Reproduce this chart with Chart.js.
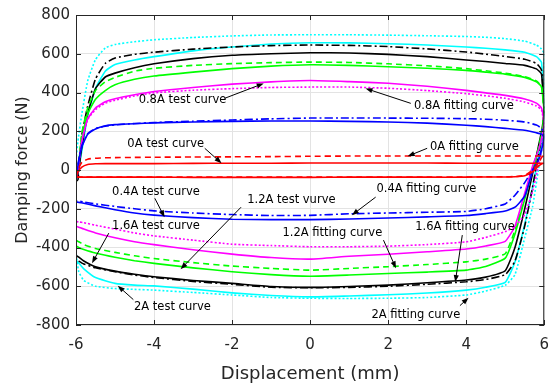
<!DOCTYPE html>
<html>
<head>
<meta charset="utf-8">
<script src="https://cdn.jsdelivr.net/npm/chart.js@4.4.1/dist/chart.umd.min.js"></script>
<style>
  html, body { margin: 0; padding: 0; background: #fff; }
  #wrap { width: 560px; height: 383px; }
</style>
</head>
<body>
<div id="wrap"><canvas id="loops"></canvas></div>
<script>
// displacement path shared by every loop (mm): upper branch left->right, lower branch right->left
const upperDisp = [-6, -5.95, -5.85, -5.7, -5.5, -5.25, -5, -4.5, -4, -3, -2, -1, 0, 1, 2, 3, 4, 4.5, 5, 5.5, 5.8, 5.93, 6];
const lowerDisp = [6, 5.95, 5.85, 5.7, 5.5, 5.25, 5, 4.5, 4, 3, 2, 1, 0, -1, -2, -3, -4, -4.5, -5, -5.5, -5.8, -5.93, -6];

// damping force (N)
const fit0A_up   = [-37, -10, 15, 28, 32, 33, 33, 33, 33, 34, 35, 35, 36, 36, 36, 36, 35, 35, 35, 35, 35, 35, 35];
const fit0A_low  = [35, 33, 20, -10, -30, -35, -36, -36, -37, -37, -37, -37, -38, -38, -38, -38, -37, -37, -37, -37, -37, -37, -37];
const test0A_up  = [-37, 0, 40, 56, 61, 63, 64, 65, 66, 67, 68, 69, 71, 72, 72, 72, 72, 72, 72, 72, 72, 72, 72];
const test0A_low = [72, 70, 35, 0, -28, -34, -35, -35, -36, -36, -36, -36, -36, -36, -36, -36, -36, -36, -36, -36, -36, -36, -36];

const fit04_up   = [-60, 20, 120, 185, 212, 228, 234, 239, 243, 248, 251, 253, 253, 251, 248, 242, 231, 224, 215, 205, 192, 185, 170];
const fit04_low  = [170, 120, 50, -10, -135, -192, -212, -225, -235, -242, -248, -253, -256, -256, -254, -246, -233, -222, -205, -185, -172, -167, -165];
const test04_up  = [-55, 30, 125, 188, 214, 226, 233, 240, 245, 252, 258, 264, 268, 268, 268, 267, 265, 262, 257, 248, 232, 215, 180];
const test04_low = [180, 120, 50, 0, -65, -130, -175, -200, -214, -218, -222, -226, -234, -235, -230, -222, -211, -200, -188, -175, -165, -161, -160];

const fit08_up   = [-60, 0, 150, 265, 320, 352, 368, 388, 405, 426, 443, 455, 462, 456, 448, 432, 411, 398, 385, 366, 345, 320, 250];
const fit08_low  = [250, 180, 100, 20, -120, -290, -368, -392, -408, -422, -435, -445, -460, -452, -434, -412, -385, -370, -350, -325, -305, -295, -290];
const test08_up  = [-60, 0, 150, 260, 312, 345, 360, 382, 398, 412, 420, 426, 428, 428, 422, 410, 394, 383, 370, 351, 330, 310, 230];
const test08_low = [230, 120, 20, -110, -230, -290, -318, -348, -371, -385, -393, -396, -396, -390, -383, -362, -340, -325, -305, -285, -272, -268, -265];

const fit12_up   = [-60, 10, 160, 290, 365, 410, 440, 468, 485, 505, 523, 536, 543, 540, 533, 525, 514, 505, 495, 478, 455, 430, 300];
const fit12_low  = [300, 200, 100, 0, -150, -330, -455, -498, -517, -527, -534, -542, -548, -540, -525, -505, -482, -468, -450, -428, -410, -400, -390];
const test12_up  = [-60, 0, 190, 320, 410, 455, 478, 510, 525, 540, 549, 554, 557, 555, 548, 538, 523, 512, 500, 482, 460, 430, 300];
const test12_low = [300, 210, 110, 10, -140, -310, -432, -460, -474, -488, -499, -508, -517, -508, -496, -478, -457, -443, -425, -405, -385, -370, -362];

const fit16_up   = [-60, -20, 120, 290, 420, 480, 500, 528, 548, 575, 592, 600, 605, 604, 597, 585, 568, 560, 550, 540, 522, 495, 300];
const fit16_low  = [300, 220, 120, -20, -200, -400, -520, -553, -568, -582, -594, -601, -606, -601, -585, -570, -551, -538, -522, -500, -470, -450, -440];
const test16_up  = [-60, -50, 180, 330, 470, 550, 578, 597, 608, 624, 635, 642, 645, 643, 637, 625, 609, 598, 586, 572, 550, 515, 300];
const test16_low = [300, 180, 80, -90, -290, -470, -540, -565, -577, -590, -600, -606, -608, -605, -590, -575, -555, -542, -525, -505, -485, -470, -460];

const fit2_up    = [-60, -20, 100, 280, 420, 510, 545, 568, 585, 615, 635, 650, 657, 656, 652, 645, 635, 628, 620, 608, 585, 555, 300];
const fit2_low   = [300, 170, 67, -90, -280, -475, -580, -605, -620, -635, -644, -650, -655, -648, -634, -615, -598, -594, -585, -555, -510, -480, -465];
const test2_up   = [50, 150, 290, 460, 570, 630, 648, 662, 672, 684, 692, 697, 698, 698, 696, 693, 689, 685, 678, 665, 645, 625, 600];
const test2_low  = [200, 120, 0, -190, -350, -540, -595, -625, -645, -658, -662, -663, -662, -658, -645, -632, -620, -616, -612, -600, -570, -525, -420];

const xTicks = [-6, -4, -2, 0, 2, 4, 6];
const yTicks = [-800, -600, -400, -200, 0, 200, 400, 600, 800];

// text labels with arrows, in data units: [text, textX, textY, tailX, tailY, headX, headY]
const notes = [
  ['0.8A test curve',    -3.27,  360, -2.19,  370, -1.19,  447],
  ['0.8A fitting curve',  3.94,  329,  2.58,  344,  1.42,  421],
  ['0A test curve',      -3.70,  133, -2.70,  112, -2.27,   35],
  ['0A fitting curve',    4.21,  117,  3.00,  112,  2.50,   71],
  ['0.4A test curve',    -3.95, -115, -3.98, -146, -3.73, -244],
  ['0.4A fitting curve',  2.98,  -99,  1.68, -140,  1.07, -233],
  ['1.2A test vurve',    -0.48, -156, -1.77, -192, -3.32, -512],
  ['1.6A test curve',    -3.95, -290, -5.16, -326, -5.59, -481],
  ['1.2A fitting curve',  0.57, -326,  1.88, -362,  2.20, -507],
  ['1.6A fitting curve',  3.97, -295,  3.90, -336,  3.72, -578],
  ['2A test curve',      -3.53, -705, -4.53, -669, -4.93, -597],
  ['2A fitting curve',    2.71, -751,  3.84, -700,  4.06, -659]
];

const DASHED = [6, 4];
const DASHDOT = [8, 3, 2, 3];
const DOTTED = [2, 2];

function loop(up, low) {
  const pts = upperDisp.map((x, i) => ({ x: x, y: up[i] }))
    .concat(lowerDisp.map((x, i) => ({ x: x, y: low[i] })));
  pts.push({ x: upperDisp[0], y: up[0] });
  return pts;
}

function series(label, up, low, color, dash) {
  return {
    label: label,
    data: loop(up, low),
    borderColor: color,
    borderWidth: 1.6,
    borderDash: dash,
    pointRadius: 0,
    showLine: true,
    fill: false,
    tension: 0.15
  };
}

const datasets = [
  series('0A fitting', fit0A_up, fit0A_low, '#ff0000', []),
  series('0A test', test0A_up, test0A_low, '#ff0000', DASHED),
  series('0.4A fitting', fit04_up, fit04_low, '#0000ff', []),
  series('0.4A test', test04_up, test04_low, '#0000ff', DASHDOT),
  series('0.8A fitting', fit08_up, fit08_low, '#ff00ff', []),
  series('0.8A test', test08_up, test08_low, '#ff00ff', DOTTED),
  series('1.2A fitting', fit12_up, fit12_low, '#00ff00', []),
  series('1.2A test', test12_up, test12_low, '#00ff00', DASHED),
  series('1.6A fitting', fit16_up, fit16_low, '#000000', []),
  series('1.6A test', test16_up, test16_low, '#000000', DASHDOT),
  series('2A fitting', fit2_up, fit2_low, '#00ffff', []),
  series('2A test', test2_up, test2_low, '#00ffff', DOTTED)
];

const AXIS = '#262626';
const FONT = 'DejaVu Sans';

// box around the plot, inward ticks and the arrow notes
const boxPlugin = {
  id: 'boxPlugin',
  afterDatasetsDraw(chart) {
    const ctx = chart.ctx;
    const xs = chart.scales.x, ys = chart.scales.y;
    const a = chart.chartArea;
    ctx.save();
    ctx.strokeStyle = AXIS;
    ctx.lineWidth = 1;
    ctx.strokeRect(a.left + 0.5, a.top + 0.5, a.right - a.left - 1, a.bottom - a.top - 1);
    ctx.beginPath();
    xTicks.forEach(v => {
      const px = Math.round(xs.getPixelForValue(v)) + 0.5;
      ctx.moveTo(px, a.bottom); ctx.lineTo(px, a.bottom - 5);
      ctx.moveTo(px, a.top); ctx.lineTo(px, a.top + 5);
    });
    yTicks.forEach(v => {
      const py = Math.round(ys.getPixelForValue(v)) + 0.5;
      ctx.moveTo(a.left, py); ctx.lineTo(a.left + 5, py);
      ctx.moveTo(a.right, py); ctx.lineTo(a.right - 5, py);
    });
    ctx.stroke();

    ctx.fillStyle = '#000';
    ctx.strokeStyle = '#000';
    ctx.font = '11.5px "' + FONT + '"';
    ctx.textAlign = 'center';
    ctx.textBaseline = 'middle';
    notes.forEach(n => {
      ctx.fillText(n[0], xs.getPixelForValue(n[1]), ys.getPixelForValue(n[2]));
      const x1 = xs.getPixelForValue(n[3]), y1 = ys.getPixelForValue(n[4]);
      const x2 = xs.getPixelForValue(n[5]), y2 = ys.getPixelForValue(n[6]);
      const ang = Math.atan2(y2 - y1, x2 - x1);
      const len = 7, half = 2.6;
      ctx.beginPath();
      ctx.moveTo(x1, y1);
      ctx.lineTo(x2 - Math.cos(ang) * len * 0.8, y2 - Math.sin(ang) * len * 0.8);
      ctx.lineWidth = 1;
      ctx.stroke();
      ctx.beginPath();
      ctx.moveTo(x2, y2);
      ctx.lineTo(x2 - Math.cos(ang) * len - Math.sin(ang) * half, y2 - Math.sin(ang) * len + Math.cos(ang) * half);
      ctx.lineTo(x2 - Math.cos(ang) * len + Math.sin(ang) * half, y2 - Math.sin(ang) * len - Math.cos(ang) * half);
      ctx.closePath();
      ctx.fill();
    });
    ctx.restore();
  }
};

new Chart(document.getElementById('loops'), {
  type: 'scatter',
  data: { datasets: datasets },
  options: {
    responsive: true,
    maintainAspectRatio: false,
    animation: false,
    layout: { padding: { top: 14, right: 6, bottom: 0, left: 0 } },
    plugins: { legend: { display: false }, tooltip: { enabled: false } },
    scales: {
      x: {
        type: 'linear',
        min: -6, max: 6,
        afterFit: s => { s.height = 58; },
        afterBuildTicks: s => { s.ticks = xTicks.map(v => ({ value: v })); },
        grid: { color: '#e3e3e3', drawTicks: false },
        border: { display: false },
        ticks: { color: AXIS, font: { family: FONT, size: 15 }, padding: 11 },
        title: {
          display: true, text: 'Displacement (mm)', color: AXIS,
          font: { family: FONT, size: 18, lineHeight: 1 }, padding: { top: 0, bottom: 0 }
        }
      },
      y: {
        type: 'linear',
        min: -800, max: 800,
        afterFit: s => { s.width = 76; },
        afterBuildTicks: s => { s.ticks = yTicks.map(v => ({ value: v })); },
        grid: { color: '#e3e3e3', drawTicks: false },
        border: { display: false },
        ticks: { color: AXIS, font: { family: FONT, size: 15 }, padding: 6 },
        title: {
          display: true, text: 'Damping force (N)', color: AXIS,
          font: { family: FONT, size: 16 }, padding: { top: 13, bottom: 0 }
        }
      }
    }
  },
  plugins: [boxPlugin]
});
</script>
</body>
</html>
